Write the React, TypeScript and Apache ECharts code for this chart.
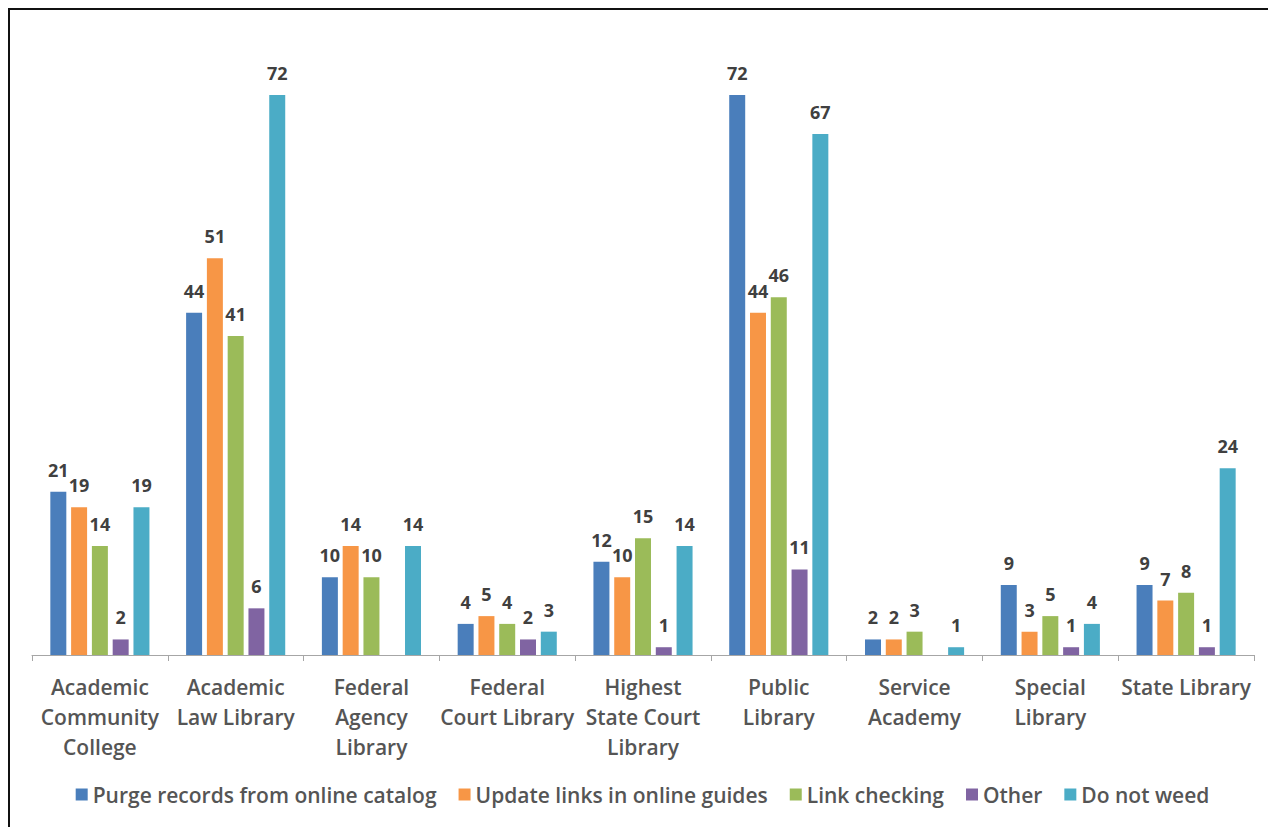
import React, { useEffect, useRef } from "react";
import * as echarts from "echarts";

const categories = [
  "Academic\nCommunity\nCollege",
  "Academic\nLaw Library",
  "Federal\nAgency\nLibrary",
  "Federal\nCourt Library",
  "Highest\nState Court\nLibrary",
  "Public\nLibrary",
  "Service\nAcademy",
  "Special\nLibrary",
  "State Library",
];

const seriesNames = [
  "Purge records from online catalog",
  "Update links in online guides",
  "Link checking",
  "Other",
  "Do not weed",
];

const purgeRecords = [21, 44, 10, 4, 12, 72, 2, 9, 9];
const updateLinks = [19, 51, 14, 5, 10, 44, 2, 3, 7];
const linkChecking = [14, 41, 10, 4, 15, 46, 3, 5, 8];
const other = [2, 6, 0, 2, 1, 11, 0, 1, 1];
const doNotWeed = [19, 72, 14, 3, 14, 67, 1, 4, 24];

const colors = ["#4A7EBB", "#F79646", "#9BBB59", "#8064A2", "#4BACC6"];
const FONT = "Open Sans";

export default function App() {
  const ref = useRef<HTMLDivElement>(null);

  useEffect(() => {
    if (!ref.current) return;
    const chart = echarts.init(ref.current, null, { renderer: "svg" });
    const values = [purgeRecords, updateLinks, linkChecking, other, doNotWeed];
    chart.setOption({
      animation: false,
      color: colors,
      textStyle: { fontFamily: FONT },
      grid: { left: 22, right: 21, top: 85, bottom: 172, containLabel: false },
      legend: {
        bottom: 17,
        left: "center",
        icon: "rect",
        itemWidth: 12,
        itemHeight: 12,
        itemGap: 22,
        textStyle: { fontSize: 21, color: "#555555", fontFamily: FONT, fontWeight: 600 },
        data: seriesNames,
      },
      xAxis: {
        type: "category",
        data: categories,
        axisLine: { lineStyle: { color: "#A6A6A6", width: 1 } },
        axisTick: { show: true, length: 6, lineStyle: { color: "#A6A6A6" } },
        axisLabel: {
          interval: 0,
          fontSize: 21,
          lineHeight: 30,
          color: "#555555",
          margin: 17,
          fontFamily: FONT,
          fontWeight: 600,
        },
      },
      yAxis: {
        type: "value",
        min: 0,
        max: 72,
        show: false,
        splitLine: { show: false },
      },
      series: seriesNames.map((name, i) => ({
        name,
        type: "bar",
        data: values[i],
        barGap: "30%",
        barCategoryGap: "27%",
        label: {
          show: true,
          position: "top",
          distance: 13,
          fontSize: 18,
          fontWeight: "bold",
          color: "#404040",
          fontFamily: FONT,
          formatter: (p: any) => (p.value === 0 ? "" : String(p.value)),
        },
      })),
    });
    return () => chart.dispose();
  }, []);

  return (
    <div
      style={{
        width: 1268,
        height: 819,
        boxSizing: "border-box",
        borderTop: "2px solid #111",
        borderLeft: "2px solid #111",
        borderRight: "1px solid #9a9a9a",
        background: "#fff",
      }}
    >
      <div ref={ref} style={{ width: 1265, height: 817 }} />
    </div>
  );
}
